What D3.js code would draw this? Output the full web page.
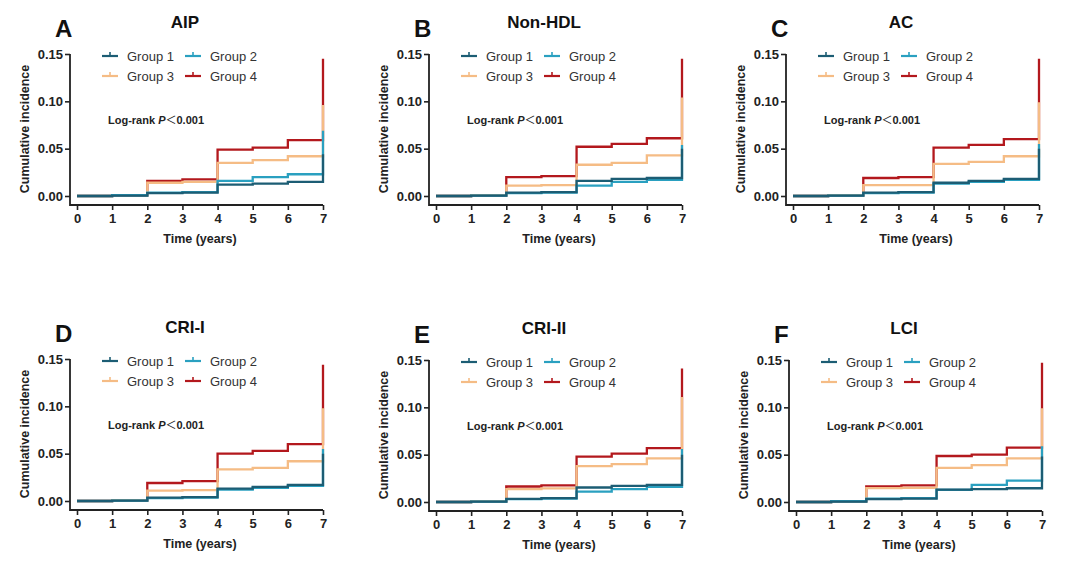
<!DOCTYPE html>
<html>
<head>
    <title>Cumulative incidence panels</title>
    <style>
        body { margin: 0; background: #fff; }
        svg { display: block; font-family: "Liberation Sans", Arial, sans-serif; }
        .tick text { font-size: 13px; font-weight: bold; fill: #222; }
        .tick line { stroke: #222; stroke-width: 1.6px; }
    </style>
</head>
<body>
    <svg width="1080" height="563"></svg>
    <script src="https://d3js.org/d3.v7.min.js"></script>
    <script>
        // time points of the steps (value holds from t to next t, last one is the jump at 7)
        var years = [0, 1, 2, 3, 4, 5, 6, 7];
        var groups = ["Group 1", "Group 2", "Group 3", "Group 4"];
        var colors = ["#1c5d74", "#2aa0c0", "#f5bc85", "#b3181d"];
        var yTicks = [0, 0.05, 0.10, 0.15];

        // cumulative incidence, one row per group
        var aip = [
            [0, 0.0005, 0.003, 0.0035, 0.012, 0.013, 0.015, 0.044],
            [0, 0.0008, 0.0035, 0.004, 0.016, 0.020, 0.023, 0.069],
            [0, 0.0008, 0.014, 0.015, 0.035, 0.038, 0.042, 0.096],
            [0, 0.0008, 0.016, 0.0175, 0.049, 0.051, 0.059, 0.145]
        ];
        var nonHdl = [
            [0, 0.0005, 0.0035, 0.004, 0.016, 0.018, 0.019, 0.050],
            [0, 0.0005, 0.003, 0.0035, 0.011, 0.015, 0.017, 0.054],
            [0, 0.0008, 0.011, 0.0115, 0.033, 0.035, 0.043, 0.104],
            [0, 0.0008, 0.020, 0.021, 0.052, 0.055, 0.061, 0.145]
        ];
        var ac = [
            [0, 0.0005, 0.0035, 0.004, 0.014, 0.016, 0.018, 0.050],
            [0, 0.0005, 0.003, 0.0035, 0.013, 0.015, 0.017, 0.055],
            [0, 0.0008, 0.0115, 0.0115, 0.034, 0.036, 0.042, 0.099],
            [0, 0.0008, 0.019, 0.020, 0.051, 0.054, 0.060, 0.145]
        ];
        var cri1 = [
            [0, 0.0005, 0.0035, 0.004, 0.013, 0.015, 0.017, 0.050],
            [0, 0.0005, 0.003, 0.0035, 0.012, 0.014, 0.016, 0.055],
            [0, 0.0008, 0.011, 0.0115, 0.0335, 0.035, 0.042, 0.098],
            [0, 0.0008, 0.019, 0.021, 0.050, 0.053, 0.060, 0.144]
        ];
        var cri2 = [
            [0, 0.0005, 0.0032, 0.004, 0.0153, 0.017, 0.018, 0.050],
            [0, 0.0005, 0.003, 0.0035, 0.011, 0.0135, 0.016, 0.056],
            [0, 0.0008, 0.0136, 0.0143, 0.038, 0.040, 0.046, 0.111],
            [0, 0.0008, 0.0164, 0.0175, 0.048, 0.051, 0.057, 0.141]
        ];
        var lci = [
            [0, 0.0005, 0.003, 0.0035, 0.013, 0.0135, 0.0145, 0.048],
            [0, 0.0008, 0.0035, 0.004, 0.0129, 0.018, 0.0225, 0.059],
            [0, 0.0008, 0.0147, 0.015, 0.036, 0.039, 0.046, 0.099],
            [0, 0.0008, 0.0164, 0.0175, 0.0486, 0.050, 0.0575, 0.147]
        ];

        var panels = [
            { letter: "A", title: "AIP", data: aip, x0: 77, y0: 196 },
            { letter: "B", title: "Non-HDL", data: nonHdl, x0: 436, y0: 196 },
            { letter: "C", title: "AC", data: ac, x0: 793, y0: 196 },
            { letter: "D", title: "CRI-I", data: cri1, x0: 77, y0: 501 },
            { letter: "E", title: "CRI-II", data: cri2, x0: 436, y0: 502 },
            { letter: "F", title: "LCI", data: lci, x0: 796, y0: 502 }
        ];

        var svg = d3.select("svg");
        var plotW = 246, plotH = 142;

        panels.forEach(function(p) {
            var g = svg.append("g").attr("transform", "translate(" + p.x0 + "," + p.y0 + ")");
            var x = d3.scaleLinear().domain([0, 7]).range([0, plotW]);
            var y = d3.scaleLinear().domain([0, 0.15]).range([0, -plotH]);

            // offset axes (Prism style)
            var axX = -7, axY = 9;
            var yAxis = g.append("g").attr("transform", "translate(" + axX + ",0)")
                .call(d3.axisLeft(y).tickValues(yTicks).tickFormat(d3.format(".2f")).tickSize(5).tickPadding(2));
            yAxis.select(".domain").remove();
            var xAxis = g.append("g").attr("transform", "translate(0," + axY + ")")
                .call(d3.axisBottom(x).tickValues(years).tickFormat(d3.format("d")).tickSize(5).tickPadding(4));
            xAxis.select(".domain").remove();
            g.append("path")
                .attr("d", "M" + axX + "," + y(0.15) + "V" + axY + "H" + x(7))
                .attr("fill", "none").attr("stroke", "#222").attr("stroke-width", 1.8);

            // curves, group 4 first so lower groups sit on top
            var line = d3.line()
                .x(function(d, i) { return x(years[i]); })
                .y(function(d) { return y(d); })
                .curve(d3.curveStepAfter);
            for (var k = 3; k >= 0; k--) {
                g.append("path")
                    .attr("d", line(p.data[k]))
                    .attr("fill", "none")
                    .attr("stroke", colors[k])
                    .attr("stroke-width", 2.3);
            }

            // legend
            groups.forEach(function(name, i) {
                var lx = 25 + (i % 2) * 83, ly = -140 + Math.floor(i / 2) * 20;
                g.append("line").attr("x1", lx).attr("x2", lx + 16).attr("y1", ly).attr("y2", ly)
                    .attr("stroke", colors[i]).attr("stroke-width", 2.2);
                g.append("line").attr("x1", lx + 8).attr("x2", lx + 8).attr("y1", ly).attr("y2", ly - 4)
                    .attr("stroke", colors[i]).attr("stroke-width", 1.6);
                g.append("text").attr("x", lx + 25).attr("y", ly).attr("dy", "0.35em")
                    .style("font-size", "13px").style("fill", "#333").text(name);
            });

            var lr = g.append("text").attr("x", 31).attr("y", -76).attr("dy", "0.35em")
                .style("font-size", "11px").style("font-weight", "bold").style("fill", "#222");
            lr.append("tspan").text("Log-rank ");
            lr.append("tspan").style("font-style", "italic").text("P");
            lr.append("tspan").style("font-family", "'Noto Sans CJK SC'").style("font-weight", "normal").text("\uFF1C");
            lr.append("tspan").text("0.001");

            // titles
            g.append("text").attr("x", -22).attr("y", -159)
                .style("font-size", "24px").style("font-weight", "bold").style("fill", "#111").text(p.letter);
            g.append("text").attr("x", 108).attr("y", -168).attr("text-anchor", "middle")
                .style("font-size", "17px").style("font-weight", "bold").style("fill", "#111").text(p.title);
            g.append("text").attr("x", plotW / 2).attr("y", 47).attr("text-anchor", "middle")
                .style("font-size", "12.5px").style("font-weight", "bold").style("fill", "#222").text("Time (years)");
            g.append("text").attr("transform", "translate(-48," + (-67) + ") rotate(-90)")
                .attr("text-anchor", "middle")
                .style("font-size", "12.5px").style("font-weight", "bold").style("fill", "#222").text("Cumulative incidence");
        });
    </script>
</body>
</html>
